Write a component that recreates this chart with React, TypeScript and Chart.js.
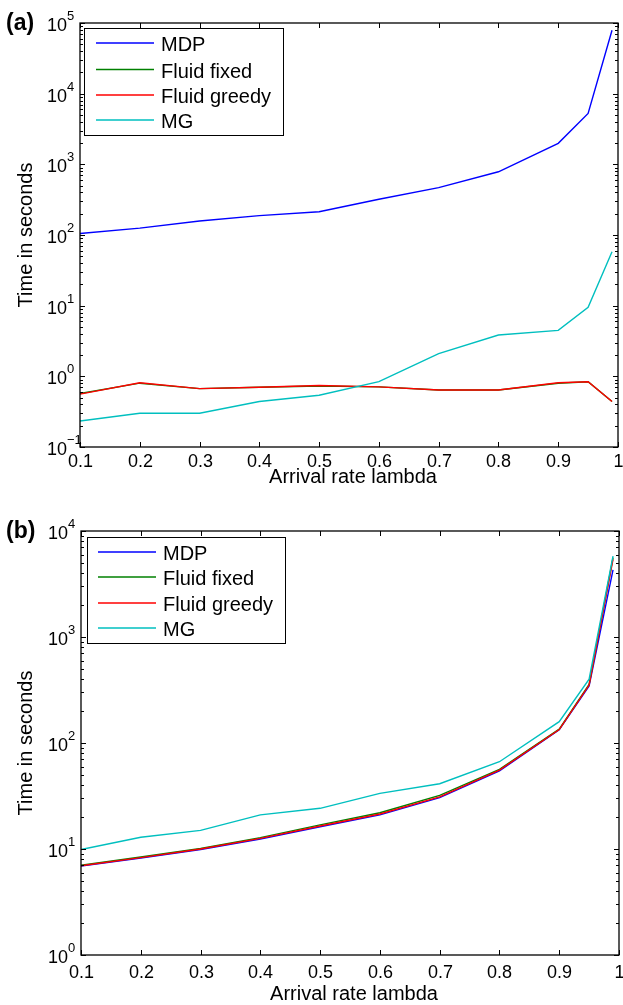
import React, { useEffect, useRef } from "react";
import { Chart, registerables } from "chart.js";
Chart.register(...registerables);

// ---------- data ----------
const lambdas = [0.1, 0.2, 0.3, 0.4, 0.5, 0.6, 0.7, 0.8, 0.9, 0.95, 0.99];
const seriesNames = ["MDP", "Fluid fixed", "Fluid greedy", "MG"];
const seriesColors = ["#0000ff", "#008000", "#ff0000", "#00bfbf"];

// panel (a)
const mdpA = [105, 125, 158, 188, 213, 320, 468, 785, 1980, 5260, 79000];
const fixedA = [0.57, 0.8, 0.67, 0.7, 0.73, 0.71, 0.64, 0.64, 0.8, 0.84, 0.44];
const greedyA = [0.56, 0.81, 0.67, 0.7, 0.74, 0.71, 0.64, 0.64, 0.81, 0.84, 0.44];
const mgA = [0.233, 0.3, 0.3, 0.44, 0.54, 0.84, 2.1, 3.84, 4.47, 9.46, 58];

// panel (b)
const mdpB = [6.9, 8.2, 9.9, 12.4, 16.2, 21, 30.5, 54.5, 133, 345, 4300];
const fixedB = [7.05, 8.4, 10.1, 12.8, 16.9, 22, 32, 56.5, 135, 358, 5600];
const greedyB = [6.95, 8.3, 10, 12.6, 16.5, 21.4, 31, 55.6, 134, 352, 5400];
const mgB = [9.9, 12.9, 15, 21, 24.2, 33.5, 41.3, 66.6, 159, 400, 5800];

const xTicks = [0.1, 0.2, 0.3, 0.4, 0.5, 0.6, 0.7, 0.8, 0.9, 1];
const xTickLabels = ["0.1", "0.2", "0.3", "0.4", "0.5", "0.6", "0.7", "0.8", "0.9", "1"];
const xTitle = "Arrival rate lambda";
const yTitle = "Time in seconds";

const FONT = "'Liberation Sans', Arial, Helvetica, sans-serif";

type Panel = {
  label: string;
  series: number[][];
  yMinExp: number;
  yMaxExp: number;
  width: number;
  height: number;
  padding: { left: number; right: number; top: number; bottom: number };
  tickBase: number;
  titleBase: number;
  legend: { x: number; y: number; w: number; h: number; lineX0: number; lineX1: number; textX: number; rows: number[] };
};

const supMinus = "\u2212";

function framePlugin(p: Panel) {
  return {
    id: "matlabFrame" + p.label,
    afterDatasetsDraw(chart: any) {
      const ctx: CanvasRenderingContext2D = chart.ctx;
      const { left, right, top, bottom } = chart.chartArea;
      const xs = chart.scales.x;
      const ys = chart.scales.y;
      ctx.save();
      ctx.strokeStyle = "#000";
      ctx.fillStyle = "#000";
      ctx.lineWidth = 1;

      // ticks x
      ctx.font = `18px ${FONT}`;
      ctx.textAlign = "center";
      ctx.textBaseline = "alphabetic";
      xTicks.forEach((t, i) => {
        const px = Math.round(xs.getPixelForValue(t)) + 0.5;
        ctx.beginPath();
        ctx.moveTo(px, bottom);
        ctx.lineTo(px, bottom - 5);
        ctx.moveTo(px, top);
        ctx.lineTo(px, top + 5);
        ctx.stroke();
        ctx.fillText(xTickLabels[i], px, bottom + p.tickBase);
      });

      // ticks y (log)
      for (let e = p.yMinExp; e <= p.yMaxExp; e++) {
        for (let m = 1; m <= 9; m++) {
          const v = m * Math.pow(10, e);
          if (v > Math.pow(10, p.yMaxExp) * 1.0001) break;
          const py = Math.round(ys.getPixelForValue(v)) + 0.5;
          const len = m === 1 ? 5 : 3;
          ctx.beginPath();
          ctx.moveTo(left, py);
          ctx.lineTo(left + len, py);
          ctx.moveTo(right, py);
          ctx.lineTo(right - len, py);
          ctx.stroke();
          if (m === 1) {
            const baseY = ys.getPixelForValue(v) + 8;
            ctx.font = `18px ${FONT}`;
            ctx.textAlign = "right";
            ctx.fillText("10", left - 13, baseY);
            ctx.font = `13px ${FONT}`;
            ctx.textAlign = "left";
            const ex = e < 0 ? supMinus + String(-e) : String(e);
            ctx.fillText(ex, left - 13, baseY - 11);
          }
        }
      }

      // frame
      ctx.lineWidth = 1.3;
      ctx.strokeRect(left, top, right - left, bottom - top);

      // axis titles
      ctx.font = `20px ${FONT}`;
      ctx.textAlign = "center";
      ctx.fillText(xTitle, (left + right) / 2 + 4, bottom + p.titleBase);
      ctx.save();
      ctx.translate(32, (top + bottom) / 2);
      ctx.rotate(-Math.PI / 2);
      ctx.fillText(yTitle, 0, 0);
      ctx.restore();

      // panel label
      ctx.font = `bold 23px ${FONT}`;
      ctx.textAlign = "left";
      ctx.fillText(p.label, 6, top + 7);

      // legend
      const L = p.legend;
      ctx.fillStyle = "#fff";
      ctx.fillRect(L.x, L.y, L.w, L.h);
      ctx.lineWidth = 1;
      ctx.strokeStyle = "#000";
      ctx.strokeRect(L.x + 0.5, L.y + 0.5, L.w, L.h);
      ctx.font = `20px ${FONT}`;
      ctx.textAlign = "left";
      seriesNames.forEach((name, i) => {
        const y = L.rows[i];
        ctx.strokeStyle = seriesColors[i];
        ctx.lineWidth = 1.4;
        ctx.beginPath();
        ctx.moveTo(L.lineX0, y);
        ctx.lineTo(L.lineX1, y);
        ctx.stroke();
        ctx.fillStyle = "#000";
        ctx.fillText(name, L.textX, y + 8);
      });
      ctx.restore();
    },
  };
}

function PanelChart({ p, top }: { p: Panel; top: number }) {
  const ref = useRef<HTMLCanvasElement | null>(null);
  useEffect(() => {
    if (!ref.current) return;
    const order = [4, 3, 2, 1];
    const chart = new Chart(ref.current, {
      type: "line",
      data: {
        datasets: p.series.map((vals, i) => ({
          label: seriesNames[i],
          data: lambdas.map((x, j) => ({ x, y: vals[j] })),
          borderColor: seriesColors[i],
          backgroundColor: seriesColors[i],
          borderWidth: 1.4,
          pointRadius: 0,
          tension: 0,
          fill: false,
          order: order[i],
        })),
      },
      options: {
        responsive: false,
        animation: false,
        devicePixelRatio: 1,
        layout: { padding: p.padding },
        plugins: { legend: { display: false }, tooltip: { enabled: false } },
        scales: {
          x: { type: "linear", min: 0.1, max: 1, display: false },
          y: { type: "logarithmic", min: Math.pow(10, p.yMinExp), max: Math.pow(10, p.yMaxExp), display: false },
        },
      },
      plugins: [framePlugin(p)],
    } as any);
    return () => chart.destroy();
  }, []);
  return (
    <canvas
      ref={ref}
      width={p.width}
      height={p.height}
      style={{ position: "absolute", left: 0, top, width: p.width, height: p.height }}
    />
  );
}

const panelA: Panel = {
  label: "(a)",
  series: [mdpA, fixedA, greedyA, mgA],
  yMinExp: -1,
  yMaxExp: 5,
  width: 623,
  height: 500,
  padding: { left: 80, right: 5, top: 23, bottom: 53 },
  tickBase: 20,
  titleBase: 36,
  legend: { x: 84, y: 28, w: 199, h: 107, lineX0: 96, lineX1: 154, textX: 161, rows: [43, 69.5, 95, 120] },
};

const panelB: Panel = {
  label: "(b)",
  series: [mdpB, fixedB, greedyB, mgB],
  yMinExp: 0,
  yMaxExp: 4,
  width: 623,
  height: 505,
  padding: { left: 81, right: 4, top: 31, bottom: 50 },
  tickBase: 23,
  titleBase: 45,
  legend: { x: 87, y: 37, w: 198, h: 106, lineX0: 98, lineX1: 156, textX: 163, rows: [52, 77, 103, 128] },
};

export default function App() {
  return (
    <div style={{ position: "absolute", left: 0, top: 0, width: 623, height: 1005, background: "#fff" }}>
      <PanelChart p={panelA} top={0} />
      <PanelChart p={panelB} top={500} />
    </div>
  );
}
